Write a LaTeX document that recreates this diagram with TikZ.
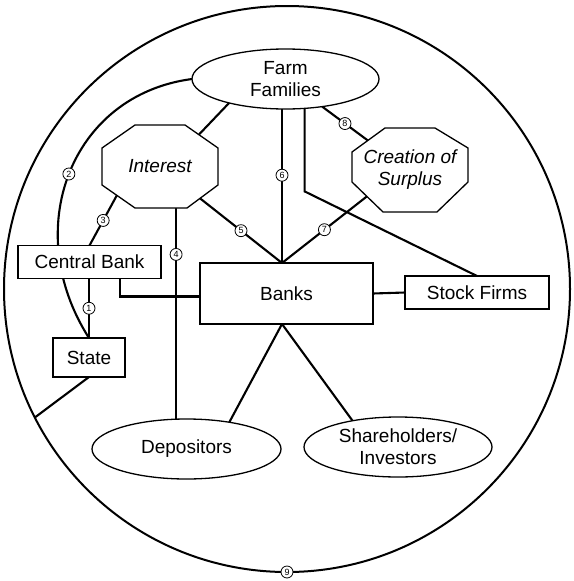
\documentclass[tikz,border=0pt]{standalone}
\usepackage{fontspec}
\setmainfont{Liberation Sans}
\usetikzlibrary{shapes.geometric,calc}
\pgfdeclarelayer{bg}
\pgfsetlayers{bg,main}
\tikzset{
  shp/.style={draw, line width=1.3pt, fill=white, inner sep=0pt, outer sep=0pt, font=\fontsize{19}{22}\selectfont, align=center},
  box/.style={shp, rectangle},
  ell/.style={shp, ellipse},
  octline/.style={draw, line width=1.3pt, fill=white},
  octtext/.style={inner sep=0pt, align=center, font=\fontsize{19}{22}\selectfont\itshape},
  conn/.style={line width=2.1pt},
  num/.style={circle, draw, line width=0.8pt, fill=white, inner sep=0pt, minimum size=12pt, font=\fontsize{9}{9}\selectfont}
}
\begin{document}
\begin{tikzpicture}[x=1pt,y=-1pt]
\useasboundingbox (0,0) rectangle (573,581);
\node[circle, draw, line width=2pt, minimum size=566pt, inner sep=0pt, outer sep=0pt] (big) at (287,289) {};
\node[ell, minimum width=187pt, minimum height=60pt] (ff) at (285.5,79) {Farm\\Families};
% Interest octagon
\coordinate (i1) at (135,125); \coordinate (i2) at (185,125); \coordinate (i3) at (218,148); \coordinate (i4) at (218,185);
\coordinate (i5) at (187,208); \coordinate (i6) at (135,208); \coordinate (i7) at (102,185); \coordinate (i8) at (102,148);
\draw[octline] (i1) -- (i2) -- (i3) -- (i4) -- (i5) -- (i6) -- (i7) -- (i8) -- cycle;
\node[octtext] (int) at (160,166.5) {Interest};
% Creation of Surplus octagon
\coordinate (c1) at (385,128); \coordinate (c2) at (435,128); \coordinate (c3) at (468,148); \coordinate (c4) at (468,182);
\coordinate (c5) at (437,212); \coordinate (c6) at (383,212); \coordinate (c7) at (352,182); \coordinate (c8) at (352,152);
\draw[octline] (c1) -- (c2) -- (c3) -- (c4) -- (c5) -- (c6) -- (c7) -- (c8) -- cycle;
\node[octtext] (cs) at (410,170) {Creation of\\Surplus};
\node[box, minimum width=143pt, minimum height=33pt] (cb) at (89.5,262) {Central Bank};
\node[box, minimum width=72pt, minimum height=39pt] (st) at (89,357.5) {State};
\node[box, minimum width=173pt, minimum height=61pt] (bk) at (286.5,293.5) {Banks};
\node[box, minimum width=144pt, minimum height=33pt] (sf) at (477,292.5) {Stock Firms};
\node[ell, minimum width=189pt, minimum height=60pt] (dep) at (186.5,449) {Depositors};
\node[ell, minimum width=188pt, minimum height=60pt] (sh) at (398,447) {Shareholders/\\Investors};
% connector end points
\coordinate (intFF) at ($(i2)!0.42!(i3)$);
\coordinate (int5) at ($(i4)!0.58!(i5)$);
\coordinate (int3) at ($(i6)!0.55!(i7)$);
\coordinate (int4) at ($(i6)!0.79!(i5)$);
\coordinate (cs8) at ($(c8)!0.48!(c1)$);
\coordinate (cs7) at ($(c7)!0.48!(c6)$);
\coordinate (bt) at ($(bk.north)+(-4.5,0)$);
\coordinate (bb) at ($(bk.south)+(-4.5,0)$);
\coordinate (cbx) at ($(cb.south)+(30.5,0)$);
\coordinate (sfbend) at ($(ff.303)+(0,83)$);
\begin{pgfonlayer}{bg}
\draw[conn] (ff.west) .. controls (70,95) and (20,230) .. node[num,pos=0.5]{2} (st.north);
\draw[conn] (cb.south -| st.north) -- node[num]{1} (st.north);
\draw[conn] (ff.203) -- (intFF);
\draw[conn] (int3) -- node[num]{3} (cb.north);
\draw[conn] (int4) -- node[num,pos=0.22]{4} (int4 |- dep.north);
\draw[conn] (int5) -- node[num]{5} (bt);
\draw[conn] (bt |- ff.south) -- node[num,pos=0.43]{6} (bt);
\draw[conn] (cs7) -- node[num]{7} (bt);
\draw[conn] (ff.323) -- node[num]{8} (cs8);
\draw[conn] (ff.303) -- (sfbend) -- (sf.north);
\draw[conn] (cbx) |- ($(bk.west)+(0,3)$);
\draw[conn] (st.south) -- (big.207);
\draw[conn] (bk.east) -- (sf.west);
\draw[conn] (bb) -- (dep.32);
\draw[conn] (bb) -- (sh.150);
\end{pgfonlayer}
\node[num] (n9) at (big.south) {9};
\end{tikzpicture}
\end{document}
